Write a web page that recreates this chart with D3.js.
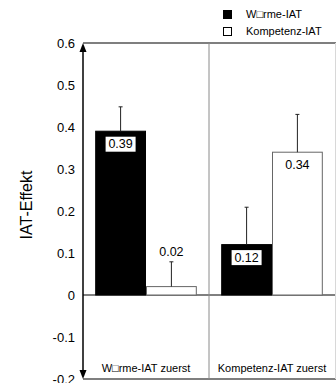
<!DOCTYPE html>
<html>
<head>
<meta charset="utf-8">
<script src="https://cdn.jsdelivr.net/npm/d3@7"></script>
<style>
  body { margin: 0; background: #fff; }
  svg { display: block; }
  text { font-family: "Liberation Sans", Arial, sans-serif; }
</style>
</head>
<body>
<script>
// data
var conditions = ["W\u25A1rme-IAT zuerst", "Kompetenz-IAT zuerst"];
var seriesNames = ["W\u25A1rme-IAT", "Kompetenz-IAT"];
var waermeVals = [0.39, 0.12];
var kompetenzVals = [0.02, 0.34];
var waermeErr = [0.058, 0.089];
var kompetenzErr = [0.059, 0.09];
var yTicks = [0.6, 0.5, 0.4, 0.3, 0.2, 0.1, 0, -0.1, -0.2];

var width = 336, height = 383;
var plotLeft = 83, plotRight = 335, plotTop = 43, plotBottom = 379;

var svg = d3.select("body").append("svg")
   .attr("width", width).attr("height", height);

var y = d3.scaleLinear().domain([-0.2, 0.6]).range([plotBottom, plotTop]);
var x0 = d3.scaleBand().domain(conditions).range([plotLeft, plotRight]);
var x1 = d3.scaleBand().domain(seriesNames).range([0, x0.bandwidth()]).paddingOuter(0.24);

// frame lines
svg.append("line").attr("x1", plotLeft).attr("x2", width).attr("y1", y(0.6)).attr("y2", y(0.6))
   .attr("stroke", "black").attr("stroke-width", 1.2);
svg.append("line").attr("x1", plotLeft).attr("x2", width).attr("y1", y(-0.2)).attr("y2", y(-0.2))
   .attr("stroke", "black").attr("stroke-width", 1.2);
svg.append("line").attr("x1", plotLeft).attr("x2", width).attr("y1", y(0)).attr("y2", y(0))
   .attr("stroke", "black").attr("stroke-width", 1);
svg.append("line").attr("x1", x0(conditions[1])).attr("x2", x0(conditions[1]))
   .attr("y1", plotTop).attr("y2", plotBottom).attr("stroke", "#8a8a8a").attr("stroke-width", 1);
svg.append("line").attr("x1", plotRight + 0.5).attr("x2", plotRight + 0.5)
   .attr("y1", plotTop).attr("y2", plotBottom).attr("stroke", "#d8d8d8").attr("stroke-width", 1);

// bars
var groups = conditions.map(function(c, i){
   return [
      {cond: c, s: seriesNames[0], v: waermeVals[i], e: waermeErr[i]},
      {cond: c, s: seriesNames[1], v: kompetenzVals[i], e: kompetenzErr[i]}
   ];
});
var flat = [].concat.apply([], groups);

svg.selectAll("rect.bar").data(flat).enter().append("rect")
   .attr("class", "bar")
   .attr("x", function(d){ return x0(d.cond) + x1(d.s) + 0.5; })
   .attr("width", x1.bandwidth() - 1)
   .attr("y", function(d){ return y(d.v); })
   .attr("height", function(d){ return y(0) - y(d.v); })
   .attr("fill", function(d){ return d.s == seriesNames[0] ? "black" : "white"; })
   .attr("stroke", function(d){ return d.s == seriesNames[0] ? "black" : "#666"; })
   .attr("stroke-width", 1);

// error bars (upward only)
flat.forEach(function(d){
   var cx = x0(d.cond) + x1(d.s) + x1.bandwidth() / 2;
   svg.append("line").attr("x1", cx).attr("x2", cx)
      .attr("y1", y(d.v)).attr("y2", y(d.v + d.e))
      .attr("stroke", "#222").attr("stroke-width", 1);
   svg.append("line").attr("x1", cx - 2).attr("x2", cx + 2)
      .attr("y1", y(d.v + d.e)).attr("y2", y(d.v + d.e))
      .attr("stroke", "#222").attr("stroke-width", 1);
});

// value labels
flat.forEach(function(d){
   var cx = x0(d.cond) + x1(d.s) + x1.bandwidth() / 2;
   var cy = d.v < 0.05 ? y(d.v + d.e) - 10 : y(d.v) + 13;
   if(d.s == seriesNames[0]){
      svg.append("rect").attr("x", cx - 15).attr("y", cy - 7.5)
         .attr("width", 30).attr("height", 15).attr("fill", "white");
   }
   svg.append("text").attr("x", cx).attr("y", cy)
      .attr("text-anchor", "middle").attr("dominant-baseline", "central")
      .attr("font-size", "12.5px").attr("fill", "black")
      .text(d3.format(".2f")(d.v));
});

// left axis with arrows at both ends
svg.append("line").attr("x1", plotLeft).attr("x2", plotLeft)
   .attr("y1", plotTop + 4).attr("y2", plotBottom - 4)
   .attr("stroke", "black").attr("stroke-width", 1.5);
var arrowTop = [[plotLeft - 3.5, plotTop + 9], [plotLeft, plotTop], [plotLeft + 3.5, plotTop + 9]];
var arrowBot = [[plotLeft - 3.5, plotBottom - 9], [plotLeft, plotBottom], [plotLeft + 3.5, plotBottom - 9]];
[arrowTop, arrowBot].forEach(function(pts){
   svg.append("path").attr("d", d3.line()(pts) + "Z").attr("fill", "black");
});

// tick labels
svg.selectAll("text.tick").data(yTicks).enter().append("text")
   .attr("class", "tick")
   .attr("x", plotLeft - 8)
   .attr("y", function(d){ return y(d); })
   .attr("text-anchor", "end").attr("dominant-baseline", "central")
   .attr("font-size", "13px").attr("fill", "black")
   .text(function(d){ return d === 0 ? "0" : String(d); });

// y title
svg.append("text")
   .attr("transform", "translate(32," + 205 + ") rotate(-90)")
   .attr("text-anchor", "middle")
   .attr("font-size", "16px").attr("fill", "black")
   .text("IAT-Effekt");

// category labels
svg.selectAll("text.cat").data(conditions).enter().append("text")
   .attr("class", "cat")
   .attr("x", function(d){ return x0(d) + x0.bandwidth() / 2; })
   .attr("y", 372)
   .attr("text-anchor", "middle")
   .attr("font-size", "11px").attr("fill", "black")
   .text(function(d){ return d; });

// legend
var leg = svg.append("g");
seriesNames.forEach(function(s, i){
   leg.append("rect").attr("x", 223.5).attr("y", 10.5 + i * 17)
      .attr("width", 8).attr("height", 8)
      .attr("fill", i == 0 ? "black" : "white").attr("stroke", "black").attr("stroke-width", 1);
   leg.append("text").attr("x", 246).attr("y", 18 + i * 17)
      .attr("font-size", "11px").attr("fill", "black").text(s);
});
</script>
</body>
</html>
